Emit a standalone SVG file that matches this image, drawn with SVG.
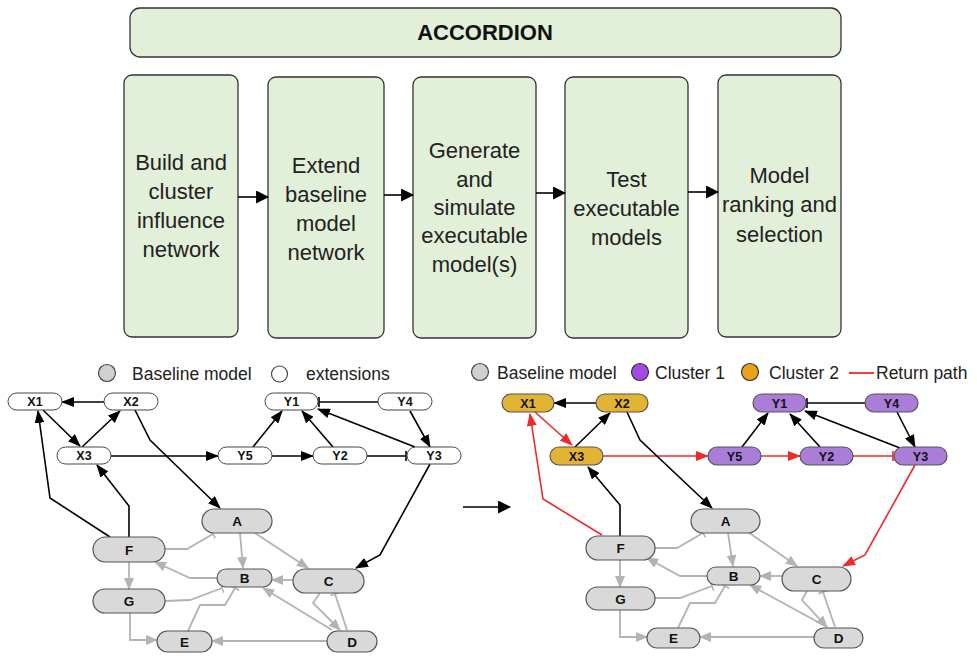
<svg xmlns="http://www.w3.org/2000/svg" width="977" height="660" viewBox="0 0 977 660">
<defs>
<style>
.step{fill:#e2efd9;stroke:#333;stroke-width:1.3}
.st{font-family:"Liberation Sans",Arial,sans-serif;font-size:22px;fill:#222;text-anchor:middle}
.hd{font-family:"Liberation Sans",Arial,sans-serif;font-size:22px;font-weight:bold;fill:#111;text-anchor:middle}
.lg{font-family:"Liberation Sans",Arial,sans-serif;font-size:17.5px;fill:#222}
.nl{font-family:"Liberation Sans",Arial,sans-serif;font-size:12.5px;font-weight:bold;fill:#111;text-anchor:middle}
.nb{font-family:"Liberation Sans",Arial,sans-serif;font-size:13.5px;font-weight:bold;fill:#111;text-anchor:middle}
.ext{fill:#fff;stroke:#444;stroke-width:1}
.base{fill:#d9d9d9;stroke:#555;stroke-width:1.2}
.c1{fill:#a97dd8;stroke:#555;stroke-width:1.2}
.c2{fill:#e3b433;stroke:#555;stroke-width:1.2}
.k{fill:none;stroke:#000;stroke-width:1.6}
.g{fill:none;stroke:#b3b3b3;stroke-width:1.8}
.r{fill:none;stroke:#ee2a2a;stroke-width:1.6}
</style>
<marker id="ak" viewBox="0 0 13 10" refX="12" refY="5" markerWidth="13" markerHeight="10" markerUnits="userSpaceOnUse" orient="auto"><path d="M0,0 L13,5 L0,10 z" fill="#000"/></marker>
<marker id="at" viewBox="0 0 12 12" refX="11" refY="6" markerWidth="13" markerHeight="13" markerUnits="userSpaceOnUse" orient="auto"><path d="M0,0 L12,6 L0,12 z" fill="#000"/></marker>
<marker id="ag" viewBox="0 0 12 10" refX="11" refY="5" markerWidth="12" markerHeight="10" markerUnits="userSpaceOnUse" orient="auto"><path d="M0,0 L12,5 L0,10 z" fill="#b3b3b3"/></marker>
<marker id="ar" viewBox="0 0 13 10" refX="12" refY="5" markerWidth="13" markerHeight="10" markerUnits="userSpaceOnUse" orient="auto"><path d="M0,0 L13,5 L0,10 z" fill="#ee2a2a"/></marker>
<marker id="bk" viewBox="0 0 4 10" refX="2" refY="5" markerWidth="4" markerHeight="10" markerUnits="userSpaceOnUse" orient="auto"><path d="M2,0 V10" stroke="#000" stroke-width="1.6"/></marker>
<marker id="bg" viewBox="0 0 4 10" refX="2" refY="5" markerWidth="4" markerHeight="10" markerUnits="userSpaceOnUse" orient="auto"><path d="M2,0 V10" stroke="#b3b3b3" stroke-width="1.6"/></marker>
<marker id="br" viewBox="0 0 4 10" refX="2" refY="5" markerWidth="4" markerHeight="10" markerUnits="userSpaceOnUse" orient="auto"><path d="M2,0 V10" stroke="#ee2a2a" stroke-width="1.6"/></marker>
</defs>
<rect width="977" height="660" fill="#fff"/>

<!-- pipeline -->
<g id="header"><rect class="step" x="130" y="8" width="711" height="49" rx="10"/><text class="hd" x="485" y="40">ACCORDION</text></g>
<g id="step1"><rect class="step" x="124" y="75" width="114" height="262" rx="8"/>
<text class="st" x="181" y="170">Build and</text><text class="st" x="181" y="199">cluster</text><text class="st" x="181" y="228">influence</text><text class="st" x="181" y="257">network</text></g>
<g id="step2"><rect class="step" x="268" y="77" width="116" height="261" rx="8"/>
<text class="st" x="326" y="173">Extend</text><text class="st" x="326" y="202">baseline</text><text class="st" x="326" y="231">model</text><text class="st" x="326" y="260">network</text></g>
<g id="step3"><rect class="step" x="413" y="77" width="123" height="261" rx="8"/>
<text class="st" x="474.5" y="158">Generate</text><text class="st" x="474.5" y="187">and</text><text class="st" x="474.5" y="215">simulate</text><text class="st" x="474.5" y="243">executable</text><text class="st" x="474.5" y="272">model(s)</text></g>
<g id="step4"><rect class="step" x="565" y="77" width="123" height="261" rx="8"/>
<text class="st" x="626.5" y="187">Test</text><text class="st" x="626.5" y="216">executable</text><text class="st" x="626.5" y="245">models</text></g>
<g id="step5"><rect class="step" x="718" y="75" width="123" height="262" rx="8"/>
<text class="st" x="779.5" y="183">Model</text><text class="st" x="779.5" y="212">ranking and</text><text class="st" x="779.5" y="242">selection</text></g>

<g id="pipeline-connectors">
<path class="k" d="M238,197 H268" marker-end="url(#at)"/>
<path class="k" d="M384,195 H413" marker-end="url(#at)"/>
<path class="k" d="M536,193 H565" marker-end="url(#at)"/>
<path class="k" d="M688,192 H718" marker-end="url(#at)"/>
<path class="k" d="M463,507 H510" marker-end="url(#at)"/>
</g>

<!-- legends -->
<g id="legend-left">
<circle cx="107" cy="373" r="8.5" fill="#d0d0d0" stroke="#444" stroke-width="1.2"/>
<text class="lg" x="132" y="380">Baseline model</text>
<circle cx="279.5" cy="374" r="8" fill="#fff" stroke="#444" stroke-width="1.2"/>
<text class="lg" x="306" y="380">extensions</text>
</g>
<g id="legend-right">
<circle cx="480" cy="372" r="8.5" fill="#d0d0d0" stroke="#444" stroke-width="1.2"/>
<text class="lg" x="497" y="379">Baseline model</text>
<circle cx="640" cy="372" r="8.5" fill="#a64ae6" stroke="#333" stroke-width="1.2"/>
<text class="lg" x="655" y="379">Cluster 1</text>
<circle cx="750" cy="372" r="8.5" fill="#e9a31b" stroke="#333" stroke-width="1.2"/>
<text class="lg" x="769" y="379">Cluster 2</text>
<path d="M849,373 H874" stroke="#ee2a2a" stroke-width="1.8"/>
<text class="lg" x="876" y="379">Return path</text>
</g>

<!-- left graph connectors -->
<g id="connectors-left">
<path class="k" d="M104,402 H62" marker-end="url(#ak)"/>
<path class="k" d="M43,410 L80,446" marker-end="url(#ak)"/>
<path class="k" d="M82,447 L120,411" marker-end="url(#ak)"/>
<path class="k" d="M135,410 L150,440 L220,508" marker-end="url(#ak)"/>
<path class="k" d="M111,456 H218" marker-end="url(#ak)"/>
<path class="k" d="M110,537 L50,498 L38,411" marker-end="url(#ak)"/>
<path class="k" d="M129,537 V506 L97,465" marker-end="url(#ak)"/>
<path class="k" d="M253,447 L282,411" marker-end="url(#ak)"/>
<path class="k" d="M272,456 H313" marker-end="url(#ak)"/>
<path class="k" d="M333,447 L302,411" marker-end="url(#ak)"/>
<path class="k" d="M378,402 H319" marker-end="url(#bk)"/>
<path class="k" d="M367,456 H406" marker-end="url(#bk)"/>
<path class="k" d="M415,447 L318,409" marker-end="url(#ak)"/>
<path class="k" d="M410,411 L430,447" marker-end="url(#ak)"/>
<path class="k" d="M430,464 L380,555 L356,568" marker-end="url(#ak)"/>
<path class="g" d="M165,549 H187 L213,534" marker-end="url(#bg)"/>
<path class="g" d="M240,533 L243,568" marker-end="url(#ag)"/>
<path class="g" d="M255,533 L308,568" marker-end="url(#ag)"/>
<path class="g" d="M293,580 H272" marker-end="url(#ag)"/>
<path class="g" d="M217,578 H190 L155,562" marker-end="url(#ag)"/>
<path class="g" d="M129,562 V589" marker-end="url(#ag)"/>
<path class="g" d="M165,601 L190,600 L222,588" marker-end="url(#bg)"/>
<path class="g" d="M188,631 L200,605 H225 L235,588" marker-end="url(#bg)"/>
<path class="g" d="M130,613 V640 H157" marker-end="url(#ag)"/>
<path class="g" d="M327,641 H212" marker-end="url(#ag)"/>
<path class="g" d="M332,630 L263,588" marker-end="url(#ag)"/>
<path class="g" d="M320,593 L313,603 L340,630" marker-end="url(#ag)"/>
<path class="g" d="M347,630 L335,594" marker-end="url(#bg)"/>
</g>

<!-- left graph nodes -->
<g id="L-X1"><rect class="ext" x="8" y="393" width="54" height="17" rx="8.5"/><text class="nl" x="35" y="406">X1</text></g>
<g id="L-X2"><rect class="ext" x="104" y="393" width="54" height="17" rx="8.5"/><text class="nl" x="131" y="406">X2</text></g>
<g id="L-X3"><rect class="ext" x="57" y="447" width="54" height="17" rx="8.5"/><text class="nl" x="84" y="460">X3</text></g>
<g id="L-Y1"><rect class="ext" x="265" y="393" width="53" height="17" rx="8.5"/><text class="nl" x="291.5" y="406">Y1</text></g>
<g id="L-Y4"><rect class="ext" x="378" y="393" width="54" height="17" rx="8.5"/><text class="nl" x="405" y="406">Y4</text></g>
<g id="L-Y5"><rect class="ext" x="218" y="447" width="54" height="17" rx="8.5"/><text class="nl" x="245" y="460">Y5</text></g>
<g id="L-Y2"><rect class="ext" x="313" y="447" width="54" height="17" rx="8.5"/><text class="nl" x="340" y="460">Y2</text></g>
<g id="L-Y3"><rect class="ext" x="407" y="447" width="54" height="17" rx="8.5"/><text class="nl" x="434" y="460">Y3</text></g>
<g id="L-A"><rect class="base" x="202" y="509" width="70" height="24" rx="12"/><text class="nb" x="237" y="526">A</text></g>
<g id="L-F"><rect class="base" x="93" y="537" width="72" height="25" rx="12.5"/><text class="nb" x="129" y="554.5">F</text></g>
<g id="L-B"><rect class="base" x="217" y="569" width="55" height="18" rx="9"/><text class="nb" x="244.5" y="583">B</text></g>
<g id="L-C"><rect class="base" x="293" y="569" width="71" height="24" rx="12"/><text class="nb" x="328.5" y="586">C</text></g>
<g id="L-G"><rect class="base" x="93" y="589" width="72" height="24" rx="12"/><text class="nb" x="129" y="606">G</text></g>
<g id="L-E"><rect class="base" x="157" y="631" width="55" height="21" rx="10.5"/><text class="nb" x="184.5" y="646.5">E</text></g>
<g id="L-D"><rect class="base" x="327" y="631" width="50" height="21" rx="10.5"/><text class="nb" x="352" y="646.5">D</text></g>

<!-- right graph connectors -->
<g id="connectors-right">
<path class="k" d="M596,403 H554" marker-end="url(#ak)"/>
<path class="r" d="M535,412 L572,445" marker-end="url(#ar)"/>
<path class="k" d="M575,447 L610,413" marker-end="url(#ak)"/>
<path class="r" d="M603,456 H708" marker-end="url(#ar)"/>
<path class="k" d="M627,412 L640,440 L712,508" marker-end="url(#ak)"/>
<path class="r" d="M602,535 L543,499 L530,414" marker-end="url(#ar)"/>
<path class="k" d="M620,536 V505 L588,467" marker-end="url(#ak)"/>
<path class="k" d="M742,447 L768,413" marker-end="url(#ak)"/>
<path class="r" d="M761,456 H800" marker-end="url(#ar)"/>
<path class="k" d="M820,447 L790,414" marker-end="url(#ak)"/>
<path class="k" d="M865,403 H807" marker-end="url(#bk)"/>
<path class="r" d="M853,456 H893" marker-end="url(#br)"/>
<path class="k" d="M900,448 L805,411" marker-end="url(#ak)"/>
<path class="k" d="M897,412 L915,447" marker-end="url(#ak)"/>
<path class="r" d="M915,465 L865,555 L843,566" marker-end="url(#ar)"/>
<path class="g" d="M655,548 H677 L703,533" marker-end="url(#bg)"/>
<path class="g" d="M728,533 L733,566" marker-end="url(#ag)"/>
<path class="g" d="M748,532 L797,566" marker-end="url(#ag)"/>
<path class="g" d="M782,576 H760" marker-end="url(#ag)"/>
<path class="g" d="M707,576 H680 L647,558" marker-end="url(#ag)"/>
<path class="g" d="M620,560 V587" marker-end="url(#ag)"/>
<path class="g" d="M655,598 H680 L712,586" marker-end="url(#bg)"/>
<path class="g" d="M678,628 L690,603 H715 L725,586" marker-end="url(#bg)"/>
<path class="g" d="M620,610 V637 H647" marker-end="url(#ag)"/>
<path class="g" d="M814,637 H700" marker-end="url(#ag)"/>
<path class="g" d="M827,627 L750,585" marker-end="url(#ag)"/>
<path class="g" d="M807,591 L802,600 L827,627" marker-end="url(#ag)"/>
<path class="g" d="M835,627 L823,592" marker-end="url(#bg)"/>
</g>

<!-- right graph nodes -->
<g id="R-X1"><rect class="c2" x="502" y="394" width="52" height="18" rx="9"/><text class="nl" x="528" y="407.5">X1</text></g>
<g id="R-X2"><rect class="c2" x="596" y="394" width="52" height="18" rx="9"/><text class="nl" x="622" y="407.5">X2</text></g>
<g id="R-X3"><rect class="c2" x="550" y="447" width="53" height="18" rx="9"/><text class="nl" x="576.5" y="460.5">X3</text></g>
<g id="R-Y1"><rect class="c1" x="753" y="394" width="53" height="18" rx="9"/><text class="nl" x="779.5" y="407.5">Y1</text></g>
<g id="R-Y4"><rect class="c1" x="865" y="394" width="53" height="18" rx="9"/><text class="nl" x="891.5" y="407.5">Y4</text></g>
<g id="R-Y5"><rect class="c1" x="708" y="447" width="53" height="18" rx="9"/><text class="nl" x="734.5" y="460.5">Y5</text></g>
<g id="R-Y2"><rect class="c1" x="800" y="447" width="53" height="18" rx="9"/><text class="nl" x="826.5" y="460.5">Y2</text></g>
<g id="R-Y3"><rect class="c1" x="894" y="447" width="53" height="18" rx="9"/><text class="nl" x="920.5" y="460.5">Y3</text></g>
<g id="R-A"><rect class="base" x="691" y="509" width="69" height="24" rx="12"/><text class="nb" x="725.5" y="526">A</text></g>
<g id="R-F"><rect class="base" x="586" y="536" width="69" height="24" rx="12"/><text class="nb" x="620.5" y="553">F</text></g>
<g id="R-B"><rect class="base" x="707" y="567" width="53" height="18" rx="9"/><text class="nb" x="733.5" y="581">B</text></g>
<g id="R-C"><rect class="base" x="782" y="567" width="69" height="24" rx="12"/><text class="nb" x="816.5" y="584">C</text></g>
<g id="R-G"><rect class="base" x="586" y="587" width="69" height="23" rx="11.5"/><text class="nb" x="620.5" y="603.5">G</text></g>
<g id="R-E"><rect class="base" x="647" y="628" width="53" height="20" rx="10"/><text class="nb" x="673.5" y="643">E</text></g>
<g id="R-D"><rect class="base" x="814" y="628" width="49" height="20" rx="10"/><text class="nb" x="838.5" y="643">D</text></g>
</svg>
